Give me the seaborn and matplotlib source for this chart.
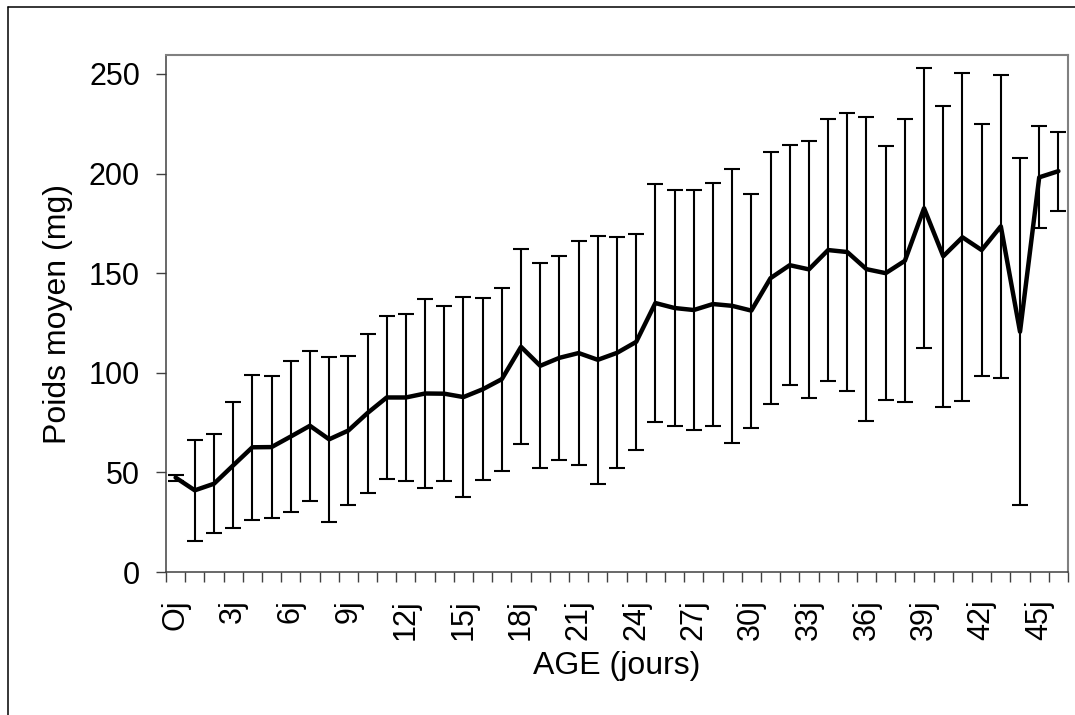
import matplotlib
matplotlib.use('Agg')  # no GUI windows

import numpy as np
import pandas as pd
import matplotlib.pyplot as plt
from matplotlib.lines import Line2D
import seaborn as sns

# --------------------------------------------------
# Data
# --------------------------------------------------
age_days = list(range(47))

mean_weight = [47.4, 41.0, 44.3, 53.5, 62.6, 62.7, 68.0, 73.4, 66.6, 71.0,
               79.8, 87.6, 87.6, 89.6, 89.5, 87.8, 91.7, 96.8, 113.0, 103.5,
               107.5, 109.9, 106.5, 110.0, 115.5, 135.0, 132.5, 131.5, 134.5, 133.6,
               131.2, 147.5, 154.0, 151.9, 161.6, 160.6, 152.0, 150.0, 156.2, 182.6,
               158.5, 168.0, 161.6, 173.5, 120.6, 198.1, 201.2]

sd_weight = [1.5, 25.3, 24.9, 31.6, 36.5, 35.5, 37.7, 37.6, 41.5, 37.6,
             39.9, 41.0, 42.0, 47.5, 44.0, 50.2, 45.7, 45.9, 48.9, 51.5,
             51.3, 56.0, 62.1, 58.0, 54.4, 59.9, 59.1, 60.2, 61.0, 68.8,
             58.7, 63.4, 60.2, 64.4, 65.7, 69.9, 76.4, 63.9, 71.0, 70.4,
             75.5, 82.3, 63.4, 76.2, 87.1, 25.6, 19.9]

label_days = [0, 3, 6, 9, 12, 15, 18, 21, 24, 27, 30, 33, 36, 39, 42, 45]
tick_labels = ["Oj", "3j", "6j", "9j", "12j", "15j", "18j", "21j",
               "24j", "27j", "30j", "33j", "36j", "39j", "42j", "45j"]

y_ticks = [0, 50, 100, 150, 200, 250]

data = pd.DataFrame({"age": age_days, "poids": mean_weight, "sd": sd_weight})

# --------------------------------------------------
# Plot
# --------------------------------------------------
sns.set_style("white")
plt.rcParams['font.family'] = ['Liberation Sans', 'DejaVu Sans']

fig = plt.figure(figsize=(10.75, 7.15), dpi=100)
ax = fig.add_axes([166 / 1075, 1 - 572 / 715, (1068 - 166) / 1075, (572 - 55) / 715])

ax.errorbar(data["age"], data["poids"], yerr=data["sd"], fmt='none',
            ecolor='black', elinewidth=1.5, capsize=5.6, capthick=1.5, zorder=2)

sns.lineplot(data=data, x="age", y="poids", color='black', linewidth=3.2,
             ax=ax, zorder=3)

ax.set_xlim(-0.5, 46.5)
ax.set_ylim(0, 259.5)

ax.set_yticks(y_ticks)
ax.set_yticklabels([str(v) for v in y_ticks])
ax.set_xticks(label_days)
ax.set_xticklabels(tick_labels, rotation=90)
ax.set_xticks(np.arange(-0.5, 47, 1), minor=True)

ax.tick_params(axis='y', direction='out', length=7.2, width=1, color='#404040',
               labelsize=22, labelcolor='black', pad=11.5, left=True)
ax.tick_params(axis='x', which='major', length=0, labelsize=22,
               labelcolor='black', pad=19.5)
ax.tick_params(axis='x', which='minor', direction='out', length=7.2, width=1,
               color='#404040', bottom=True)

ax.set_xlabel("AGE (jours)", fontsize=23, color='black', labelpad=8)
ax.set_ylabel("Poids moyen (mg)", fontsize=23, color='black', labelpad=11)

for side in ['left', 'bottom']:
    ax.spines[side].set_color('#404040')
    ax.spines[side].set_linewidth(1.1)
for side in ['top', 'right']:
    ax.spines[side].set_color('#808080')
    ax.spines[side].set_linewidth(1.5)

# outer chart frame (left and top edges visible)
fig.add_artist(Line2D([8 / 1075, 8 / 1075], [0, 1 - 7 / 715], color='black', linewidth=1.1))
fig.add_artist(Line2D([8 / 1075, 1], [1 - 7 / 715, 1 - 7 / 715], color='black', linewidth=1.1))

fig.savefig("out.png", dpi=100)
plt.close(fig)
